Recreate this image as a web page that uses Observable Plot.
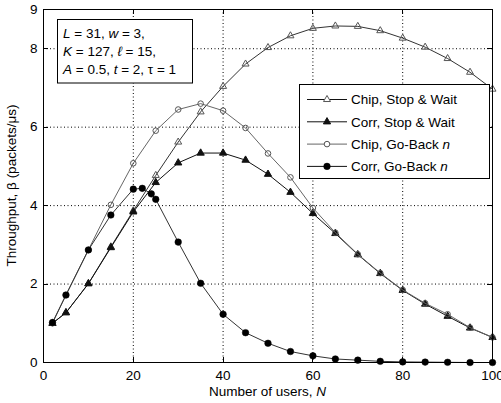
<!DOCTYPE html>
<html><head><meta charset="utf-8">
<script src="https://cdn.jsdelivr.net/npm/d3@7"></script>
<script src="https://cdn.jsdelivr.net/npm/@observablehq/plot@0.6"></script>
<style>body{margin:0;background:#fff}</style>
</head><body><div id="chart"></div>
<script>
// ---- data ----
const N = [2,5,10,15,20,25,30,35,40,45,50,55,60,65,70,75,80,85,90,95,100];
const chipSW  = [1.00,1.27,2.01,2.95,3.87,4.77,5.62,6.39,7.04,7.61,8.03,8.33,8.52,8.58,8.57,8.46,8.27,8.04,7.75,7.40,6.97];
const corrSW  = [1.00,1.27,2.01,2.93,3.84,4.59,5.09,5.34,5.34,5.16,4.80,4.34,3.80,3.29,2.75,2.27,1.84,1.49,1.18,0.88,0.64];
const chipGBn = [1.00,1.72,2.87,4.02,5.08,5.91,6.45,6.60,6.42,5.98,5.33,4.72,3.94,3.31,2.76,2.28,1.85,1.51,1.23,0.89,0.64];
const N_corrGBn = [2,5,10,15,20,22,24,25,30,35,40,45,50,55,60,65,70,75,80,85,90,95,100];
const corrGBn = [1.02,1.72,2.87,3.76,4.42,4.44,4.30,4.16,3.07,2.02,1.23,0.76,0.49,0.28,0.17,0.09,0.06,0.03,0.015,0.01,0.005,0,0];
const xTicks = [0,20,40,60,80,100];
const yTicks = [0,2,4,6,8,9];
const xGrid = [20,40,60,80];
const yGrid = [2,4,6,8];
const seriesNames = ["Chip, Stop & Wait","Corr, Stop & Wait","Chip, Go-Back ","Corr, Go-Back "];

// ---- styles ----
const font = '"Liberation Sans", Arial, Helvetica, sans-serif';
const styles = [
  {line:"#333", symbol:"triangle", r:2.6, fill:"none", stroke:"#555", sw:1},
  {line:"#111", symbol:"triangle", r:2.7, fill:"#111", stroke:"#111", sw:1},
  {line:"#666", symbol:"circle", r:2.8, fill:"none", stroke:"#555", sw:1},
  {line:"#333", symbol:"circle", r:3.3, fill:"#000", stroke:"#000", sw:0.5}
];
const rows = (xs, ys) => xs.map((x,i)=>({x, y: ys[i]}));
const data = [rows(N,chipSW), rows(N,corrSW), rows(N,chipGBn), rows(N_corrGBn,corrGBn)];

const seriesMarks = data.flatMap((d,i)=>[
  Plot.line(d, {x:"x", y:"y", stroke: styles[i].line, strokeWidth: 1}),
  Plot.dot(d, {x:"x", y:"y", symbol: styles[i].symbol, r: styles[i].r, fill: styles[i].fill, stroke: styles[i].stroke, strokeWidth: styles[i].sw})
]);

const plot = Plot.plot({
  width: 501, height: 403,
  marginLeft: 43, marginRight: 9, marginTop: 9, marginBottom: 41,
  style: {fontFamily: font, fontSize: "13.5px", background: "white", color: "black"},
  x: {domain: [0,100]},
  y: {domain: [0,9]},
  marks: [
    Plot.gridX(xGrid, {stroke:"black", strokeOpacity: 1, strokeDasharray:"1,2.5"}),
    Plot.gridY(yGrid, {stroke:"black", strokeOpacity: 1, strokeDasharray:"1,2.5"}),
    Plot.axisX(xTicks, {tickSize: 0, tickPadding: 8, label: null}),
    Plot.axisY(yTicks, {tickSize: 0, tickPadding: 6, label: null}),
    ...seriesMarks,
    Plot.frame({stroke: "black"})
  ]
});
document.getElementById("chart").appendChild(plot);

const svg = d3.select(plot);
const sx = plot.scale("x").apply, sy = plot.scale("y").apply;

// inward ticks on all four sides
const tg = svg.append("g").attr("stroke","black").attr("stroke-width",1);
xGrid.forEach(v=>{
  const X = Math.round(sx(v))+0.5;
  tg.append("line").attr("x1",X).attr("x2",X).attr("y1",sy(0)).attr("y2",sy(0)-5);
  tg.append("line").attr("x1",X).attr("x2",X).attr("y1",sy(9)).attr("y2",sy(9)+5);
});
yGrid.forEach(v=>{
  const Y = Math.round(sy(v))+0.5;
  tg.append("line").attr("y1",Y).attr("y2",Y).attr("x1",sx(0)).attr("x2",sx(0)+5);
  tg.append("line").attr("y1",Y).attr("y2",Y).attr("x1",sx(100)).attr("x2",sx(100)-5);
});

// axis labels
const xl = svg.append("text").attr("x", (sx(0)+sx(100))/2).attr("y", 396)
  .attr("text-anchor","middle").attr("font-family",font).attr("font-size","13.5px").attr("fill","black");
xl.append("tspan").text("Number of users, ");
xl.append("tspan").attr("font-style","italic").text("N");

svg.append("text").attr("transform",`translate(16,${(sy(0)+sy(9))/2}) rotate(-90)`)
  .attr("text-anchor","middle").attr("font-family",font).attr("font-size","13.5px").attr("fill","black")
  .text("Throughput, \u03B2 (packets/\u03BCs)");

// parameter annotation box
const ag = svg.append("g").attr("font-family",font).attr("font-size","13.5px").attr("fill","black").attr("text-anchor","start");
ag.append("rect").attr("x",57.5).attr("y",19.5).attr("width",135).attr("height",63.5)
  .attr("fill","white").attr("stroke","black");
const annLines = [
  [["L",1],[" = 31, ",0],["w",1],[" = 3,",0]],
  [["K",1],[" = 127, ",0],["\u2113",1],[" = 15,",0]],
  [["A",1],[" = 0.5, ",0],["t",1],[" = 2, \u03C4 = 1",0]]
];
annLines.forEach((ln,i)=>{
  const t = ag.append("text").attr("x",63).attr("y",37.5 + i*18);
  ln.forEach(([s,it])=>t.append("tspan").attr("font-style", it?"italic":"normal").text(s));
});

// legend
const lg = svg.append("g").attr("font-family",font).attr("font-size","13.5px").attr("text-anchor","start");
lg.append("rect").attr("x",299.5).attr("y",84.5).attr("width",190).attr("height",94)
  .attr("fill","white").attr("stroke","black");
seriesNames.forEach((name,i)=>{
  const y = 99.5 + i*22.3;
  const s = styles[i];
  lg.append("line").attr("x1",307).attr("x2",347).attr("y1",y).attr("y2",y)
    .attr("stroke", i===2 ? "#666" : "#111").attr("stroke-width",1);
  const sym = s.symbol==="triangle" ? d3.symbolTriangle : d3.symbolCircle;
  lg.append("path").attr("transform",`translate(327,${y})`)
    .attr("d", d3.symbol(sym, Math.PI*s.r*s.r)())
    .attr("fill", s.fill==="none" ? "white" : s.fill).attr("stroke", s.stroke).attr("stroke-width", s.sw);
  const t = lg.append("text").attr("x",351).attr("y",y+4.8).attr("fill","black");
  t.append("tspan").text(name);
  if (i>=2) t.append("tspan").attr("font-style","italic").text("n");
});
</script>
</body></html>
